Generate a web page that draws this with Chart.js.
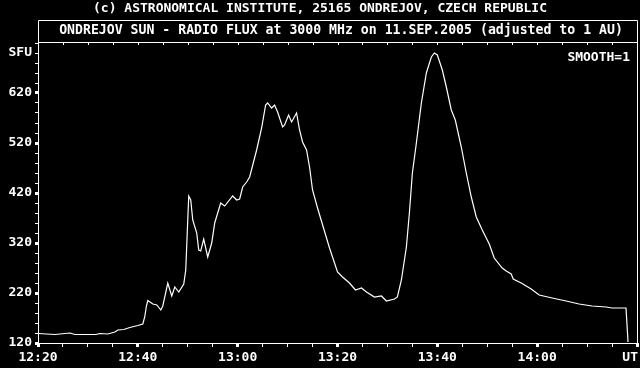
<!DOCTYPE html>
<html>
<head>
<meta charset="utf-8">
<script src="https://cdn.jsdelivr.net/npm/chart.js@4"></script>
<style>
  body { margin: 0; background: #000; }
  canvas { display: block; }
</style>
</head>
<body>
<canvas id="flux" width="640" height="368"></canvas>
<script>
// minutes after 12:20 UT
const minutes = [0, 3.4, 6.4, 7.4, 11.6, 12.4, 14, 15.4, 16, 17.2, 18.4, 20, 21, 21.4, 21.7, 22, 23, 23.8, 24.6, 25,
  26, 26.8, 27.4, 28.2, 29.2, 29.6, 30, 30.2, 30.6, 31, 31.8, 32.2, 32.6, 33.2, 34, 34.8, 35.4, 36.6, 37.4, 39,
  39.8, 40.4, 41, 41.8, 42.4, 43.8, 44.8, 45.6, 46, 46.8, 47.4, 48, 49, 49.4, 50.2, 50.8, 51.8, 52.4, 53, 53.8,
  54.4, 55, 56, 58.4, 60, 61, 62.4, 63.6, 64.8, 65.8, 67.4, 68.8, 69.8, 71.4, 72, 72.8, 73.8, 74.4, 75, 75.8,
  76.8, 77.8, 78.8, 79.4, 80, 81, 81.8, 82.8, 83.6, 84.8, 85.8, 86.8, 87.8, 89, 90.4, 91.4, 93, 93.8, 94.8, 95.2,
  96.8, 98.8, 100.4, 103, 105.8, 108.4, 111, 113.8, 115, 117.8, 118.2];
// solar flux units
const flux = [139, 137, 140, 137, 137, 139, 138, 142, 146, 147, 151, 155, 158, 173, 193, 205, 198, 196, 186, 194,
  240, 214, 232, 222, 238, 266, 366, 414, 406, 366, 340, 306, 304, 328, 292, 320, 360, 400, 394, 414,
  406, 408, 432, 442, 452, 506, 550, 596, 600, 590, 596, 582, 552, 556, 576, 562, 580, 546, 522, 506,
  472, 426, 390, 310, 262, 252, 240, 226, 230, 222, 212, 214, 204, 208, 212, 246, 312, 380, 460, 520,
  600, 660, 692, 700, 696, 666, 632, 586, 566, 512, 460, 412, 372, 346, 318, 290, 270, 264, 258, 248,
  240, 228, 216, 210, 204, 198, 194, 192, 190, 190, 122];

const timeLabels = ['12:20', '12:40', '13:00', '13:20', '13:40', '14:00'];
const fluxLabels = [120, 220, 320, 420, 520, 620];

const FAMILY = '"DejaVu Sans Mono", monospace';
const FONT = 'bold 13px ' + FAMILY;

// box, top ticks and the loose texts
const frame = {
  id: 'frame',
  afterDraw(chart) {
    const ctx = chart.ctx;
    const a = chart.chartArea;
    const xs = chart.scales.x;
    ctx.save();
    ctx.strokeStyle = '#fff';
    ctx.lineWidth = 1;
    ctx.beginPath();
    ctx.moveTo(a.left + 0.5, a.bottom);
    ctx.lineTo(a.left + 0.5, 20.5);
    ctx.lineTo(a.right + 0.5, 20.5);
    ctx.lineTo(a.right + 0.5, a.bottom + 1);
    ctx.moveTo(a.left, a.top - 0.5);
    ctx.lineTo(a.right + 1, a.top - 0.5);
    for (let v = 5; v < 120; v += 5) {
      const px = Math.round(xs.getPixelForValue(v)) + 0.5;
      ctx.moveTo(px, a.top);
      ctx.lineTo(px, a.top + 2);
    }
    ctx.stroke();
    ctx.fillStyle = '#fff';
    ctx.fillRect(a.right - 1, a.bottom, 3, 4);

    ctx.font = FONT;
    ctx.textBaseline = 'middle';
    ctx.textAlign = 'center';
    ctx.fillText('(c) ASTRONOMICAL INSTITUTE, 25165 ONDREJOV, CZECH REPUBLIC', 320, 9);
    ctx.font = 'bold 13.2px ' + FAMILY;
    ctx.fillText('ONDREJOV SUN - RADIO FLUX at 3000 MHz on 11.SEP.2005 (adjusted to 1 AU)', 341, 31);
    ctx.font = FONT;
    ctx.textAlign = 'right';
    ctx.fillText('SMOOTH=1', 630, 58);
    ctx.fillText('SFU', 32, 53);
    ctx.fillText('UT', 638, 358);
    ctx.restore();
  }
};

new Chart(document.getElementById('flux'), {
  type: 'line',
  data: {
    datasets: [{
      data: minutes.map((m, i) => ({ x: m, y: flux[i] })),
      borderColor: '#fff',
      borderWidth: 1.2,
      pointRadius: 0,
      tension: 0
    }]
  },
  options: {
    responsive: false,
    animation: false,
    devicePixelRatio: 1,
    layout: { padding: { top: 43, right: 2, bottom: 0, left: 0 } },
    plugins: { legend: { display: false }, tooltip: { enabled: false } },
    scales: {
      x: {
        type: 'linear',
        min: 0,
        max: 120,
        afterFit: s => { s.height = 25; },
        border: { display: true, color: '#fff', width: 1 },
        grid: {
          drawOnChartArea: false,
          color: '#fff',
          tickLength: 4,
          tickWidth: c => (c.tick && c.tick.value % 20 === 0 ? 3 : 1)
        },
        ticks: {
          stepSize: 5,
          autoSkip: false,
          maxRotation: 0,
          padding: 3,
          color: '#fff',
          font: { family: FAMILY, size: 13, weight: 'bold' },
          callback: v => (v % 20 === 0 && v < 120 ? timeLabels[v / 20] : '')
        }
      },
      y: {
        min: 120,
        max: 720,
        afterFit: s => { s.width = 38; },
        border: { display: true, color: '#fff', width: 1 },
        grid: {
          drawOnChartArea: false,
          color: '#fff',
          tickLength: 3,
          tickWidth: c => (c.tick && fluxLabels.includes(c.tick.value) ? 3 : 1)
        },
        ticks: {
          stepSize: 20,
          autoSkip: false,
          padding: 3,
          color: '#fff',
          font: { family: FAMILY, size: 13, weight: 'bold' },
          callback: v => (fluxLabels.includes(v) ? String(v) : '')
        }
      }
    }
  },
  plugins: [frame]
});
</script>
</body>
</html>
